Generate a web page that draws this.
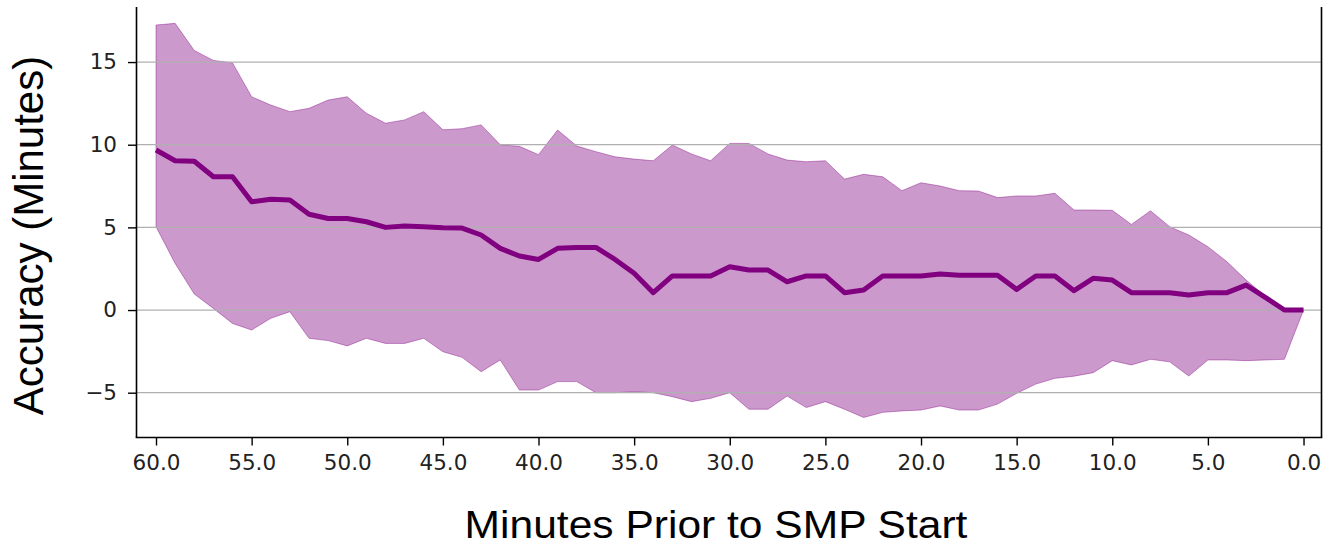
<!DOCTYPE html>
<html>
<head>
<meta charset="utf-8">
<script src="https://cdn.jsdelivr.net/npm/d3@7"></script>
<style>
	body { margin: 0; background: #fff; }
	svg { display: block; }
</style>
</head>
<body>
<div id="chart"></div>
<script>
// minutes before start
const minutes = [60, 59, 58, 57, 56, 55, 54, 53, 52, 51, 50, 49, 48, 47, 46, 45, 44, 43, 42, 41,
	40, 39, 38, 37, 36, 35, 34, 33, 32, 31, 30, 29, 28, 27, 26, 25, 24, 23, 22, 21,
	20, 19, 18, 17, 16, 15, 14, 13, 12, 11, 10, 9, 8, 7, 6, 5, 4, 3, 2, 1, 0]

const meanValues = [9.68, 9.03, 9.0, 8.06, 8.06, 6.55, 6.7, 6.65, 5.79, 5.54, 5.54, 5.34, 5.0, 5.08, 5.04, 4.98, 4.96, 4.54, 3.73, 3.27,
	3.06, 3.73, 3.79, 3.79, 3.06, 2.22, 1.05, 2.06, 2.06, 2.06, 2.62, 2.42, 2.42, 1.71, 2.06, 2.06, 1.05, 1.21, 2.06, 2.06,
	2.06, 2.18, 2.1, 2.1, 2.1, 1.25, 2.06, 2.06, 1.17, 1.92, 1.81, 1.05, 1.05, 1.05, 0.91, 1.05, 1.05, 1.51, 0.77, 0.0, 0.0]

const upperValues = [17.24, 17.34, 15.7, 15.1, 14.95, 12.9, 12.4, 12.0, 12.2, 12.7, 12.9, 11.9, 11.3, 11.5, 12.0, 10.9, 10.97, 11.2, 10.0, 9.9,
	9.4, 10.89, 9.92, 9.58, 9.27, 9.13, 9.03, 9.98, 9.44, 9.03, 10.08, 10.08, 9.44, 9.07, 8.97, 9.03, 7.92, 8.21, 8.06, 7.22,
	7.7, 7.5, 7.22, 7.2, 6.8, 6.9, 6.9, 7.06, 6.05, 6.05, 6.03, 5.18, 6.0, 5.04, 4.54, 3.83, 2.92, 1.81, 0.85, 0.1, 0.0]

const lowerValues = [5.04, 2.82, 0.97, 0.1, -0.81, -1.21, -0.5, -0.1, -1.71, -1.85, -2.17, -1.71, -2.02, -2.02, -1.71, -2.52, -2.86, -3.73, -3.02, -4.84,
	-4.84, -4.33, -4.33, -5.0, -5.0, -4.94, -5.0, -5.24, -5.54, -5.34, -5.0, -6.0, -6.0, -5.2, -5.9, -5.54, -6.0, -6.5, -6.19, -6.1,
	-6.05, -5.8, -6.05, -6.05, -5.69, -5.04, -4.48, -4.13, -4.0, -3.79, -3.06, -3.32, -2.98, -3.13, -3.99, -3.02, -3.02, -3.06, -3.02, -2.98, 0.0]

const xTicks = [60, 55, 50, 45, 40, 35, 30, 25, 20, 15, 10, 5, 0]
const yTicks = [-5, 0, 5, 10, 15]

const xLabel = 'Minutes Prior to SMP Start'
const yLabel = 'Accuracy (Minutes)'

const data = minutes.map((m, i) => ({
	minute: m,
	mean: meanValues[i],
	upper: upperValues[i],
	lower: lowerValues[i]
}))

const width = 1324,
	height = 545
const plot = { left: 136.5, right: 1321.5, top: 7, bottom: 437.5 }

const x = d3
	.scaleLinear()
	.domain([61.02, -0.94])
	.range([plot.left, plot.right])

const y = d3
	.scaleLinear()
	.domain([-7.71, 18.33])
	.range([plot.bottom, plot.top])

const svg = d3
	.select('#chart')
	.append('svg')
	.attr('width', width)
	.attr('height', height)

// band
const area = d3
	.area()
	.x(d => x(d.minute))
	.y0(d => y(d.lower))
	.y1(d => y(d.upper))

svg.append('path')
	.datum(data)
	.attr('d', area)
	.attr('fill', 'purple')
	.attr('fill-opacity', 0.4)
	.attr('stroke', 'purple')
	.attr('stroke-opacity', 0.4)
	.attr('stroke-width', 1)

// horizontal grid
svg.append('g')
	.selectAll('line')
	.data(yTicks)
	.enter()
	.append('line')
	.attr('x1', plot.left)
	.attr('x2', plot.right)
	.attr('y1', d => y(d))
	.attr('y2', d => y(d))
	.attr('stroke', '#b0b0b0')
	.attr('stroke-width', 1.3)

// mean line
const line = d3
	.line()
	.x(d => x(d.minute))
	.y(d => y(d.mean))

svg.append('path')
	.datum(data)
	.attr('d', line)
	.attr('fill', 'none')
	.attr('stroke', 'purple')
	.attr('stroke-width', 5)
	.attr('stroke-linejoin', 'round')

// axes
const xAxis = svg
	.append('g')
	.attr('transform', `translate(0,${plot.bottom})`)
	.call(
		d3
			.axisBottom(x)
			.tickValues(xTicks)
			.tickFormat(d3.format('.1f'))
			.tickSize(8)
			.tickPadding(9)
	)

const yAxis = svg
	.append('g')
	.attr('transform', `translate(${plot.left},0)`)
	.call(
		d3
			.axisLeft(y)
			.tickValues(yTicks)
			.tickFormat(d3.format('d'))
			.tickSize(8.5)
			.tickPadding(11)
	)

;[xAxis, yAxis].forEach(g => {
	g.select('.domain').remove()
	g.selectAll('.tick line').attr('stroke', '#000').attr('stroke-width', 1.4)
	g.selectAll('.tick text')
		.attr('fill', '#222')
		.style('font-family', '"DejaVu Sans", sans-serif')
		.style('font-size', '21.5px')
})

// spines (no top one in the picture)
svg.append('line')
	.attr('x1', plot.left).attr('x2', plot.left)
	.attr('y1', plot.top).attr('y2', plot.bottom)
	.attr('stroke', '#000').attr('stroke-width', 1.6)
svg.append('line')
	.attr('x1', plot.right).attr('x2', plot.right)
	.attr('y1', plot.top).attr('y2', plot.bottom)
	.attr('stroke', '#000').attr('stroke-width', 1.6)
svg.append('line')
	.attr('x1', plot.left - 0.8).attr('x2', plot.right + 0.8)
	.attr('y1', plot.bottom).attr('y2', plot.bottom)
	.attr('stroke', '#000').attr('stroke-width', 1.6)

// titles (the picture is a bit stretched sideways)
svg.append('text')
	.attr('transform', 'translate(716,538) scale(1.12,1)')
	.attr('text-anchor', 'middle')
	.style('font-family', '"Liberation Sans", Arial, sans-serif')
	.style('font-size', '38px')
	.text(xLabel)

svg.append('text')
	.attr('transform', 'translate(43,235.5) rotate(-90)')
	.attr('text-anchor', 'middle')
	.style('font-family', '"Liberation Sans", Arial, sans-serif')
	.style('font-size', '42px')
	.text(yLabel)
</script>
</body>
</html>
